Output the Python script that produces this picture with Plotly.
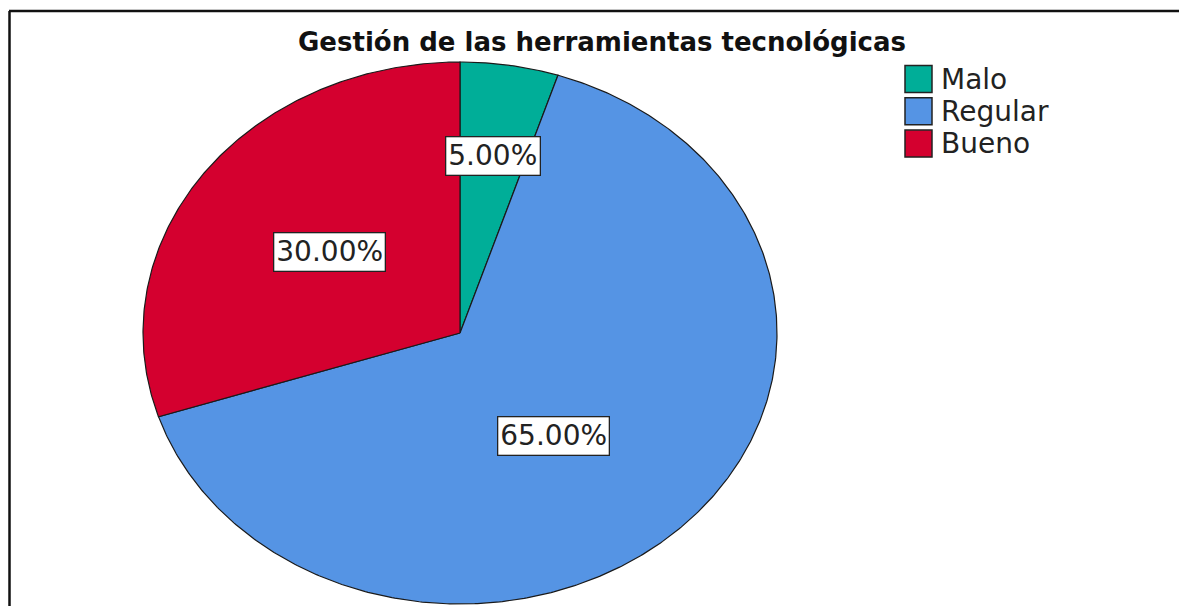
import numpy as np
import plotly.graph_objects as go

# ---- data ----
categories = ["Malo", "Regular", "Bueno"]
percentages = [5.0, 65.0, 30.0]
colors = ["#00AE98", "#5594E4", "#D4002F"]
title_text = "Gestión de las herramientas tecnológicas"

# ---- layout constants (screen pixels) ----
W, H = 1187, 606
OFF = 8  # page body margin
CX, CY = 460, 333
RX, RY = 317, 271
label_frac = [0.66, 0.48, 0.51]
label_angle_offset = [0, 7, 0]
LEG_X, LEG_Y0, LEG_DY = 918.5, 79, 32.3
LEG_TEXT_X = 939
EDGE = "#1a1a1a"

fig = go.Figure()

total = sum(percentages)
start = 0.0
for i, (cat, val, col) in enumerate(zip(categories, percentages, colors)):
    a0 = start
    a1 = start + 360.0 * val / total
    start = a1
    th = np.radians(np.linspace(a0, a1, max(int((a1 - a0) * 2), 8)))
    xs = np.concatenate([[CX], CX + RX * np.sin(th), [CX]])
    ys = np.concatenate([[CY], CY - RY * np.cos(th), [CY]])
    fig.add_trace(go.Scatter(x=xs, y=ys, mode="lines", fill="toself",
                             fillcolor=col, line=dict(color=EDGE, width=1.2),
                             hoverinfo="skip", showlegend=False))
    mid = np.radians((a0 + a1) / 2 + label_angle_offset[i])
    lx = CX + label_frac[i] * RX * np.sin(mid)
    ly = CY - label_frac[i] * RY * np.cos(mid)
    fig.add_annotation(x=lx, y=ly, text=f"{val:.2f}%", showarrow=False,
                       font=dict(family="DejaVu Sans", size=28, color="#222"),
                       bgcolor="white", bordercolor="#222", borderwidth=1.3,
                       borderpad=2, xanchor="center", yanchor="middle")

# legend drawn as square markers + text labels
leg_y = [LEG_Y0 + LEG_DY * i for i in range(len(categories))]
fig.add_trace(go.Scatter(
    x=[LEG_X] * len(categories), y=leg_y, mode="markers",
    marker=dict(symbol="square", size=27, color=colors,
                line=dict(color="#222", width=1.5)),
    hoverinfo="skip", showlegend=False, cliponaxis=False))
for cat, y in zip(categories, leg_y):
    fig.add_annotation(x=LEG_TEXT_X, y=y, text=cat, showarrow=False,
                       font=dict(family="DejaVu Sans", size=28, color="#222"),
                       xanchor="left", yanchor="middle")

# title
fig.add_annotation(x=602, y=42, text=f"<b>{title_text}</b>", showarrow=False,
                   font=dict(family="DejaVu Sans", size=26, color="#111"),
                   xanchor="center", yanchor="middle")

# frame lines (left + top)
fig.add_shape(type="line", x0=9.5, x1=9.5, y0=11, y1=H + OFF, line=dict(color="#111", width=2.5))
fig.add_shape(type="line", x0=9, x1=W + OFF, y0=11, y1=11, line=dict(color="#111", width=2.5))

fig.update_xaxes(range=[OFF, W + OFF], visible=False, fixedrange=True)
fig.update_yaxes(range=[H + OFF, OFF], visible=False, fixedrange=True)
fig.update_layout(width=W, height=H, margin=dict(l=0, r=0, t=0, b=0),
                  paper_bgcolor="white", plot_bgcolor="white", showlegend=False)

fig.write_html("out.html")
